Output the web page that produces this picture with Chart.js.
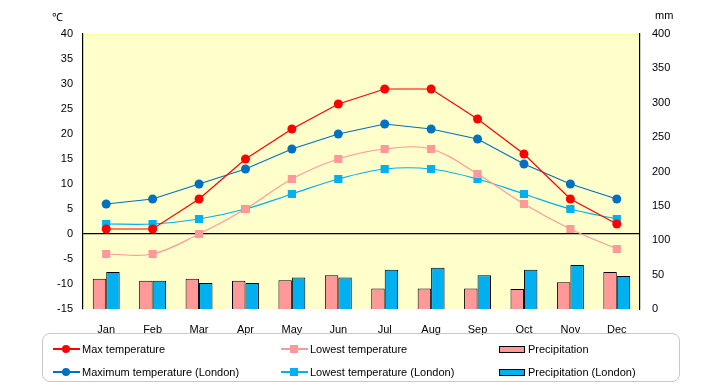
<!DOCTYPE html>
<html>
<head>
<meta charset="utf-8">
<script src="https://cdn.jsdelivr.net/npm/chart.js@4.4.1/dist/chart.umd.min.js"></script>
<style>
  html, body { margin: 0; padding: 0; background: #fff; }
  #wrap { position: relative; width: 720px; height: 385px; font-family: "Liberation Sans", Arial, sans-serif; font-size: 11px; color: #000; }
  canvas { position: absolute; left: 0; top: 0; }
  .unit { position: absolute; top: 9px; font-size: 11px; }
  #legend { position: absolute; left: 42px; top: 333px; width: 638px; height: 49px; border: 1px solid #c8c8c8; border-radius: 8px; box-sizing: border-box; }
  .item { position: absolute; height: 14px; line-height: 14px; white-space: nowrap; }
  .sym { position: absolute; left: 0; top: 0; width: 27px; height: 14px; }
  .sym .ln { position: absolute; left: 0; right: 0; top: 6px; height: 2px; }
  .sym .dot { position: absolute; left: 9px; top: 3px; width: 8px; height: 8px; border-radius: 50%; }
  .sym .sq { position: absolute; left: 9px; top: 3px; width: 8px; height: 8px; }
  .sym .bx { position: absolute; left: 0; top: 4px; width: 24px; height: 5px; border: 1px solid #000; }
  .item span.t { position: absolute; left: 29px; top: 0; }
</style>
</head>
<body>
<div id="wrap">
  <canvas id="climateChart" width="720" height="385"></canvas>
  <div class="unit" style="left:52px;">℃</div>
  <div class="unit" style="left:655px;">mm</div>
  <div id="legend"></div>
</div>
<script>
// tick labels / categories
const months = ['Jan', 'Feb', 'Mar', 'Apr', 'May', 'Jun', 'Jul', 'Aug', 'Sep', 'Oct', 'Nov', 'Dec'];

// temperatures (°C)
const maxTemp = [1, 1, 7, 15, 21, 26, 29, 29, 23, 16, 7, 2];
const lowTemp = [-4, -4, 0, 5, 11, 15, 17, 17, 12, 6, 1, -3];
const maxTempLondon = [6, 7, 10, 13, 17, 20, 22, 21, 19, 14, 10, 7];
const lowTempLondon = [2, 2, 3, 5, 8, 11, 13, 13, 11, 8, 5, 3];

// precipitation (mm)
const precip = [44, 41, 44, 41, 42, 49, 30, 30, 30, 29, 39, 54];
const precipLondon = [54, 41, 38, 38, 46, 46, 57, 60, 49, 57, 64, 48];

const RED = '#ff0000';
const PINK = '#ff9999';
const BLUE = '#0070c0';
const CYAN = '#00b0f0';

// light yellow plot area
const plotBg = {
    id: 'plotBg',
    beforeDraw(chart) {
        const a = chart.chartArea;
        const c = chart.ctx;
        c.save();
        c.fillStyle = '#ffffcc';
        c.fillRect(a.left, a.top, a.right - a.left, a.bottom - a.top);
        c.strokeStyle = '#ffff99';
        c.beginPath();
        c.moveTo(a.left, a.top + 0.5);
        c.lineTo(a.right, a.top + 0.5);
        c.stroke();
        c.restore();
    }
};

const tickFont = { family: '"Liberation Sans", Arial, sans-serif', size: 11 };

new Chart(document.getElementById('climateChart').getContext('2d'), {
    type: 'bar',
    data: {
        labels: months,
        datasets: [
            { type: 'line', label: 'Max temperature', data: maxTemp, yAxisID: 'y', order: 0,
              borderColor: RED, backgroundColor: RED, borderWidth: 1.2, pointStyle: 'circle', pointRadius: 4.5, pointBorderWidth: 0, tension: 0 },
            { type: 'line', label: 'Maximum temperature (London)', data: maxTempLondon, yAxisID: 'y', order: 0,
              borderColor: BLUE, backgroundColor: BLUE, borderWidth: 1.2, pointStyle: 'circle', pointRadius: 4.5, pointBorderWidth: 0, tension: 0 },
            { type: 'line', label: 'Lowest temperature', data: lowTemp, yAxisID: 'y', order: 0,
              borderColor: PINK, backgroundColor: PINK, borderWidth: 1.2, pointStyle: 'rect', pointRadius: 5.8, pointBorderWidth: 0, tension: 0.35 },
            { type: 'line', label: 'Lowest temperature (London)', data: lowTempLondon, yAxisID: 'y', order: 0,
              borderColor: CYAN, backgroundColor: CYAN, borderWidth: 1.2, pointStyle: 'rect', pointRadius: 5.8, pointBorderWidth: 0, tension: 0.35 },
            { label: 'Precipitation', data: precip, yAxisID: 'y1', order: 1,
              backgroundColor: PINK, borderColor: '#000', borderWidth: 1, categoryPercentage: 0.58, barPercentage: 1 },
            { label: 'Precipitation (London)', data: precipLondon, yAxisID: 'y1', order: 1,
              backgroundColor: CYAN, borderColor: '#000', borderWidth: 1, categoryPercentage: 0.58, barPercentage: 1 }
        ]
    },
    options: {
        responsive: false,
        animation: false,
        layout: { padding: { top: 34, bottom: 0, left: 0, right: 0 } },
        plugins: { legend: { display: false }, tooltip: { enabled: false } },
        scales: {
            x: {
                offset: true,
                grid: { display: false },
                border: { display: false },
                ticks: { color: '#000', font: tickFont, padding: 6, maxRotation: 0 },
                afterFit: s => { s.height = 76; }
            },
            y: {
                position: 'left',
                min: -15, max: 40,
                ticks: { stepSize: 5, color: '#000', font: tickFont, padding: 10 },
                grid: { drawTicks: false, lineWidth: 1.2, color: c => c.tick && c.tick.value === 0 ? '#000' : 'rgba(0,0,0,0)' },
                border: { display: true, color: '#000', width: 1.2 },
                afterFit: s => { s.width = 83; }
            },
            y1: {
                position: 'right',
                min: 0, max: 400,
                ticks: { stepSize: 50, color: '#000', font: tickFont, padding: 12 },
                grid: { display: false, drawTicks: false },
                border: { display: true, color: '#000', width: 1.2 },
                afterFit: s => { s.width = 80; }
            }
        }
    },
    plugins: [plotBg]
});

// legend in three columns, as in the original
const legendItems = [
    { text: 'Max temperature', kind: 'dot', color: RED, x: 10, y: 8 },
    { text: 'Maximum temperature (London)', kind: 'dot', color: BLUE, x: 10, y: 31 },
    { text: 'Lowest temperature', kind: 'sq', color: PINK, x: 238, y: 8 },
    { text: 'Lowest temperature (London)', kind: 'sq', color: CYAN, x: 238, y: 31 },
    { text: 'Precipitation', kind: 'bx', color: PINK, x: 456, y: 8 },
    { text: 'Precipitation (London)', kind: 'bx', color: CYAN, x: 456, y: 31 }
];
const legendEl = document.getElementById('legend');
legendItems.forEach(it => {
    const d = document.createElement('div');
    d.className = 'item';
    d.style.left = it.x + 'px';
    d.style.top = it.y + 'px';
    let sym;
    if (it.kind === 'bx') {
        sym = '<div class="sym"><div class="bx" style="background:' + it.color + '"></div></div>';
    } else {
        sym = '<div class="sym"><div class="ln" style="background:' + it.color + '"></div><div class="' + it.kind + '" style="background:' + it.color + '"></div></div>';
    }
    d.innerHTML = sym + '<span class="t">' + it.text + '</span>';
    legendEl.appendChild(d);
});
</script>
</body>
</html>
